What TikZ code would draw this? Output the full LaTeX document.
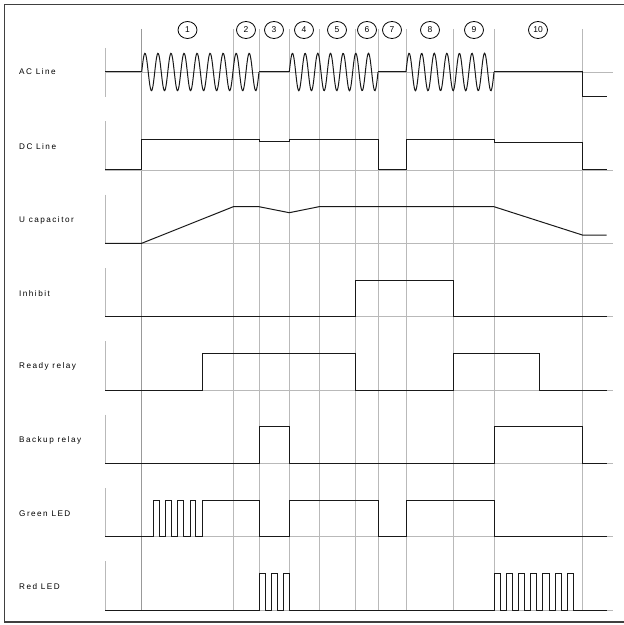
\documentclass[tikz,border=0pt]{standalone}
\usepackage{fontspec}
\setmainfont{Liberation Sans}
\usetikzlibrary{shapes.geometric}

\begin{document}
\begin{tikzpicture}[x=1bp, y=-1bp,
    grid/.style={gray!55, line width=0.9bp},
    sig/.style={black!90, line width=1bp},
    lbl/.style={anchor=west, inner sep=0pt, font=\fontsize{8.2}{9}\selectfont\addfontfeature{LetterSpace=18}},
    phase/.style={draw, ellipse, inner sep=0pt, minimum width=19bp, minimum height=17bp, line width=0.8bp, font=\fontsize{8.5}{9}\selectfont}]

    \useasboundingbox (0,0) rectangle (624,625);
    \draw[line width=1.3bp, black!75] (4.7,4.7) rectangle (632,622);

    % time marks and phase numbers
    \draw[gray!80, line width=0.6bp] (141.7,29) -- (141.7,611);
    \foreach \t in {233.3,259,289.3,319,355.7,378,406,453.7,494,582.3}
        \draw[grid] (\t,29) -- (\t,611);
    \foreach \n/\x in {1/187.5, 2/246, 3/274, 4/304, 5/337, 6/367, 7/392, 8/430, 9/474, 10/538}
        \node[phase] (ph\n) at (\x,30) {\n};

    % row axes
    \draw[grid] (105,48) -- (105,97);
    \draw[grid] (105,72) -- (613,72);
    \foreach \b in {170,243.3,316.7,390,463.3,536.7,610}
        \draw[grid] (105,\b-48.7) -- (105,\b) -- (613,\b);

    % labels
    \node[lbl] (acline) at (19,72) {AC Line};
    \node[lbl] (dcline) at (19,146.7) {DC Line};
    \node[lbl] (ucap) at (19,220) {U capacitor};
    \node[lbl] (inhibit) at (19,293.3) {Inhibit};
    \node[lbl] (ready) at (19,366.7) {Ready relay};
    \node[lbl] (backup) at (19,440) {Backup relay};
    \node[lbl] (green) at (19,513.3) {Green LED};
    \node[lbl] (red) at (19,586.7) {Red LED};

    % AC line
    \draw[sig] (105,72) -- (141.7,72);
    \draw[sig, domain=141.7:259, samples=190] plot (\x, {72-18.7*sin(27.621*(\x-141.7))});
    \draw[sig] (259,72) -- (289.3,72);
    \draw[sig, domain=289.3:378, samples=150] plot (\x, {72-18.7*sin(28.41*(\x-289.3))});
    \draw[sig] (378,72) -- (406,72);
    \draw[sig, domain=406:494, samples=150] plot (\x, {72-18.7*sin(28.636*(\x-406))});
    \draw[sig] (494,72) -- (582.3,72) -- (582.3,96.7) -- (606.7,96.7);

    % DC line
    \draw[sig] (105,170) -- (141.7,170) -- (141.7,140) -- (259,140) -- (259,141.8) -- (289.3,141.8)
        -- (289.3,140) -- (378,140) -- (378,170) -- (406,170) -- (406,140) -- (494,140)
        -- (494,142.3) -- (582.3,142.3) -- (582.3,170) -- (606.7,170);

    % U capacitor
    \draw[sig] (105,243.3) -- (141.7,243.3) -- (233.3,206.7) -- (259,206.7) -- (289.3,212.7)
        -- (319,206.7) -- (494,206.7) -- (582.3,235) -- (606.7,235);

    % Inhibit
    \draw[sig] (105,316.7) -- (355.7,316.7) -- (355.7,280) -- (453.7,280) -- (453.7,316.7) -- (606.7,316.7);

    % Ready relay
    \draw[sig] (105,390) -- (202.3,390) -- (202.3,353.3) -- (355.7,353.3) -- (355.7,390) -- (453.7,390)
        -- (453.7,353.3) -- (539.3,353.3) -- (539.3,390) -- (606.7,390);

    % Backup relay
    \draw[sig] (105,463.3) -- (259,463.3) -- (259,426.7) -- (289.3,426.7) -- (289.3,463.3) -- (494,463.3)
        -- (494,426.7) -- (582.3,426.7) -- (582.3,463.3) -- (606.7,463.3);

    % Green LED
    \draw[sig] (105,536.7) \foreach \p in {153.7,165.8,177.9,190} {-- (\p,536.7) -- (\p,500) -- (\p+5.8,500) -- (\p+5.8,536.7)}
        -- (202.3,536.7) -- (202.3,500) -- (259,500) -- (259,536.7) -- (289.3,536.7) -- (289.3,500)
        -- (378,500) -- (378,536.7) -- (406,536.7) -- (406,500) -- (494,500) -- (494,536.7) -- (606.7,536.7);

    % Red LED
    \draw[sig] (105,610) \foreach \p in {259,271.15,283.3} {-- (\p,610) -- (\p,573.3) -- (\p+6,573.3) -- (\p+6,610)}
        \foreach \p in {494,506.2,518.4,530.6,542.8,555,567.2} {-- (\p,610) -- (\p,573.3) -- (\p+6.2,573.3) -- (\p+6.2,610)}
        -- (606.7,610);
\end{tikzpicture}
\end{document}
